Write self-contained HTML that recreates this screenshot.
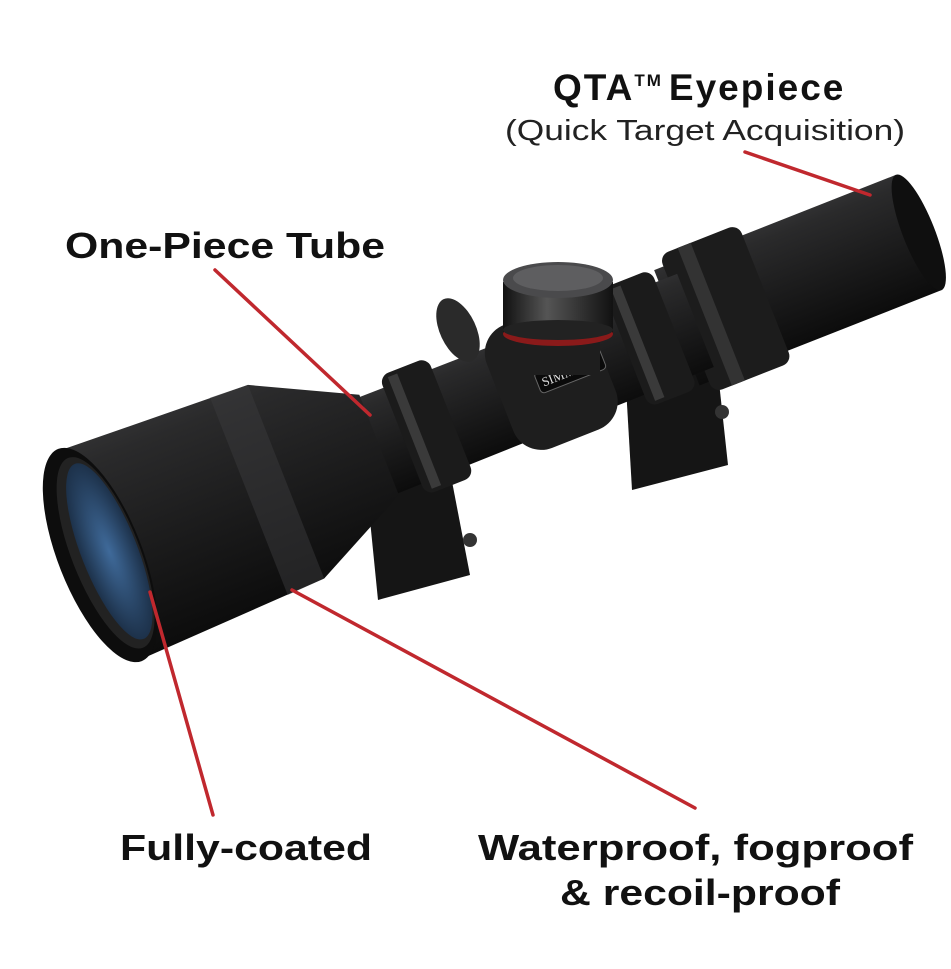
<!DOCTYPE html>
<html><head><meta charset="utf-8"><style>
body{margin:0;width:951px;height:969px;background:#fff;overflow:hidden}
svg{position:absolute;left:0;top:0}
.b{font-family:"Liberation Sans",sans-serif;font-weight:bold;fill:#111}
</style></head><body>
<svg width="951" height="969" viewBox="0 0 951 969">
<defs>
<linearGradient id="body" x1="0" y1="-1" x2="0" y2="1" gradientUnits="objectBoundingBox">
<stop offset="0" stop-color="#1a1a1a"/><stop offset="0.3" stop-color="#4a4a4c"/><stop offset="0.55" stop-color="#2a2a2b"/><stop offset="1" stop-color="#0c0c0c"/></linearGradient>
<radialGradient id="lens" cx="0.5" cy="0.5" r="0.6"><stop offset="0" stop-color="#3f6a9a"/><stop offset="1" stop-color="#16263a"/></radialGradient>
<linearGradient id="tur" x1="0" x2="1"><stop offset="0" stop-color="#111"/><stop offset="0.4" stop-color="#555"/><stop offset="1" stop-color="#111"/></linearGradient>
</defs>
<path d="M365 470 L445 445 L470 575 L378 600 Z" fill="#151515"/>
<path d="M625 370 L715 345 L728 465 L632 490 Z" fill="#151515"/>
<circle cx="470" cy="540" r="7" fill="#333"/><circle cx="722" cy="412" r="7" fill="#333"/>
<g transform="translate(100,555) rotate(-21.5)">
<path d="M620 -62 L880 -62 L880 62 L620 62 Z" fill="url(#body)"/>
<rect x="630" y="-74" width="85" height="148" rx="10" fill="#1c1c1c"/>
<rect x="650" y="-74" width="14" height="148" fill="#333"/>
<ellipse cx="880" cy="0" rx="16" ry="62" fill="#0f0f0f"/>
<path d="M270 -52 L640 -50 L640 50 L270 52 Z" fill="url(#body)"/>
<rect x="325" y="-64" width="52" height="128" rx="10" fill="#1b1b1b"/>
<rect x="565" y="-64" width="52" height="128" rx="10" fill="#1b1b1b"/>
<rect x="333" y="-60" width="10" height="120" fill="#3a3a3a"/>
<rect x="573" y="-60" width="10" height="120" fill="#3a3a3a"/>
<rect x="430" y="-66" width="110" height="132" rx="30" fill="#1e1e1e"/>
<rect x="470" y="-10" width="70" height="22" rx="4" fill="#0a0a0a" stroke="#666" stroke-width="1"/>
<text x="505" y="6" font-family="Liberation Serif,serif" font-size="13" fill="#ddd" text-anchor="middle">SIMMONS</text>
<path d="M0 -112 L200 -104 L300 -54 L300 54 L200 104 L0 112 Z" fill="url(#body)"/>
<path d="M160 -106 L200 -104 L200 104 L160 106 Z" fill="#3a3a3c" opacity="0.5"/>
<ellipse cx="0" cy="0" rx="42" ry="114" fill="#0d0d0d"/>
<ellipse cx="6" cy="0" rx="34" ry="102" fill="#222"/>
<ellipse cx="10" cy="0" rx="28" ry="94" fill="url(#lens)"/>
</g>
<ellipse cx="458" cy="330" rx="18" ry="34" transform="rotate(-25 458 330)" fill="#2a2a2a"/>
<rect x="520" y="330" width="80" height="45" fill="#1e1e1e"/>
<rect x="503" y="282" width="110" height="52" fill="url(#tur)"/>
<ellipse cx="558" cy="334" rx="55" ry="12" fill="#8a1a1a"/>
<ellipse cx="558" cy="330" rx="55" ry="10" fill="#222"/>
<ellipse cx="558" cy="280" rx="55" ry="18" fill="#4a4a4c"/>
<ellipse cx="558" cy="278" rx="45" ry="13" fill="#5e5e60"/>
<g stroke="#c0282e" stroke-width="3.5" stroke-linecap="round">
<line x1="745" y1="152" x2="870" y2="195"/>
<line x1="215" y1="270" x2="370" y2="415"/>
<line x1="150" y1="592" x2="213" y2="815"/>
<line x1="292" y1="590" x2="695" y2="808"/>
</g>
<text class="b" x="553" y="100" font-size="37" letter-spacing="2">QTA<tspan font-size="17" dy="-14">TM</tspan><tspan dy="14" dx="6">Eyepiece</tspan></text>
<text x="505" y="140" font-family="Liberation Sans,sans-serif" font-size="29" fill="#222" textLength="400" lengthAdjust="spacingAndGlyphs">(Quick Target Acquisition)</text>
<text class="b" x="65" y="258" font-size="36" textLength="320" lengthAdjust="spacingAndGlyphs">One-Piece Tube</text>
<text class="b" x="120" y="860" font-size="36" textLength="252" lengthAdjust="spacingAndGlyphs">Fully-coated</text>
<text class="b" x="478" y="860" font-size="36" textLength="435" lengthAdjust="spacingAndGlyphs">Waterproof, fogproof</text>
<text class="b" x="560" y="905" font-size="36" textLength="280" lengthAdjust="spacingAndGlyphs">&amp; recoil-proof</text>
</svg>
</body></html>
